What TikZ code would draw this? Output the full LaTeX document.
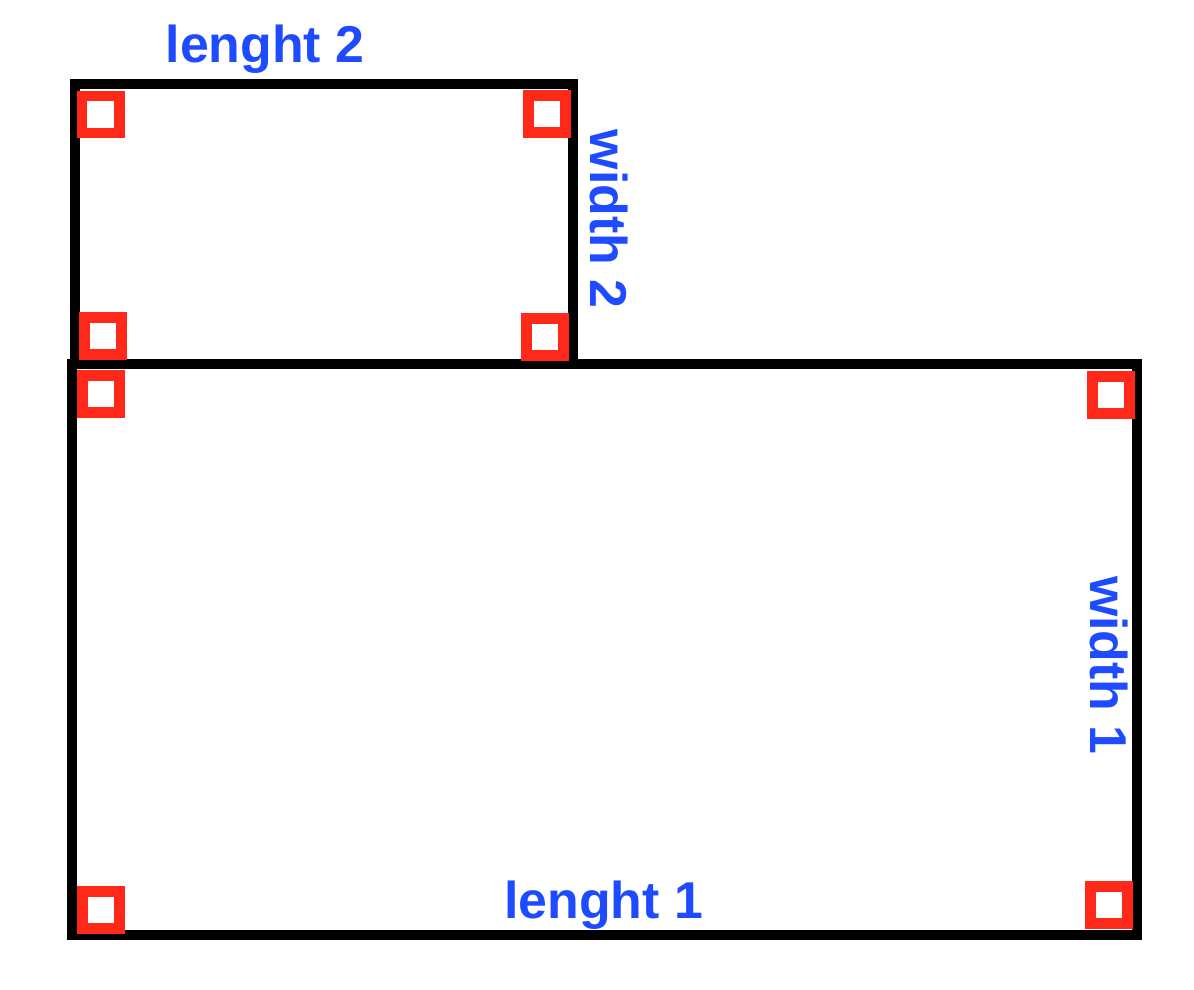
\documentclass[tikz,border=0pt]{standalone}
\usepackage{fontspec}
\setmainfont{Liberation Sans}
\definecolor{labelblue}{RGB}{30,75,255}
\definecolor{cornerred}{RGB}{255,40,25}
\begin{document}
\begin{tikzpicture}[x=0.02cm, y=-0.02cm,
    wall/.style={line width=0.2cm, black},
    cornerbox/.style={line width=0.22cm, cornerred, fill=white},
    dimlabel/.style={text=labelblue, font=\fontsize{29.5}{35}\selectfont\bfseries, inner sep=0pt}]
    \useasboundingbox (0,0) rectangle (1194,990);

    % Room 2 (top) and room 1 (bottom)
    \draw[wall] (75,84) rectangle (573,364);
    \draw[wall] (72,364) rectangle (1136.5,934.5);

    % Corner markers
    \foreach \cx/\cy in {100.5/114.5, 547/114, 545/336.5, 103/335.5,
                         101/394, 1110.5/395, 1108.5/905, 101/909.5} {
        \draw[cornerbox] (\cx-18.5,\cy-18.5) rectangle ++(37,37);
    }

    % Dimension labels
    \node[dimlabel, anchor=base] (len2) at (265,63) {lenght 2};
    \node[dimlabel, anchor=base, rotate=-90] (wid2) at (590,219) {width 2};
    \node[dimlabel, anchor=base, rotate=-90] (wid1) at (1090,665.5) {width 1};
    \node[dimlabel, anchor=base] (len1) at (603.5,918) {lenght 1};

\end{tikzpicture}
\end{document}
